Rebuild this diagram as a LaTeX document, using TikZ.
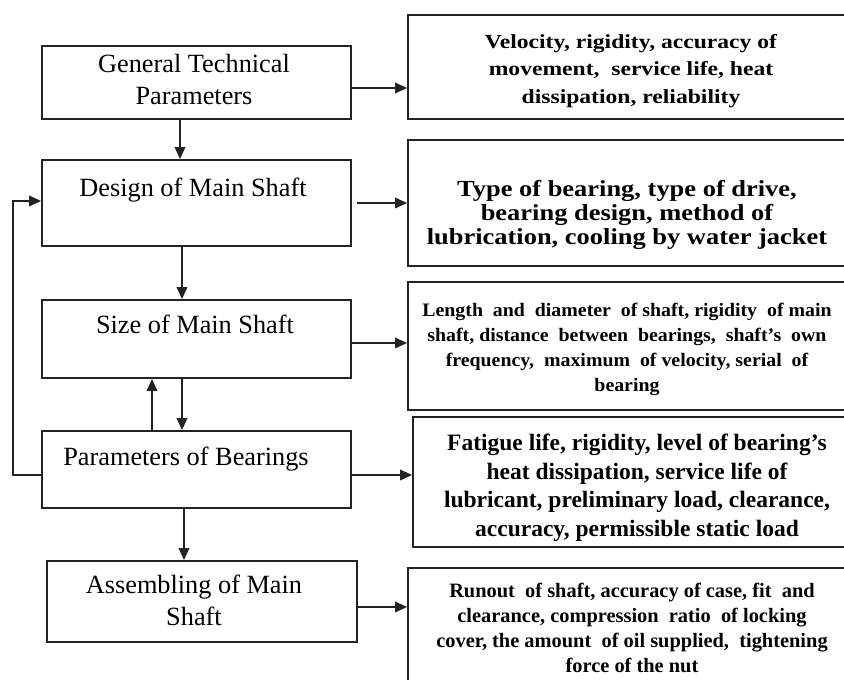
\documentclass[tikz,border=0pt]{standalone}
\usepackage{fontspec}
\usepackage{graphicx}
\setmainfont{Liberation Serif}
\usetikzlibrary{arrows.meta,calc}
\definecolor{ink}{RGB}{35,35,35}
\newcommand{\stretchtext}[4]{\scalebox{#1}[1]{\bfseries\fontsize{#2}{#3}\selectfont\begin{tabular}{@{}c@{}}#4\end{tabular}}}
\tikzset{
  box/.style={draw=ink, line width=1.8pt, rectangle, inner sep=0pt},
  ltext/.style={font=\fontsize{26.3}{32}\selectfont, align=center, inner sep=0pt, text=black},
  rtext/.style={align=center, inner sep=0pt, text=black},
  arr/.style={draw=ink, line width=1.8pt, -{Triangle[length=12pt,width=10.5pt]}},
}
\begin{document}
\begin{tikzpicture}[x=1pt,y=-1pt]
\useasboundingbox (0,0) rectangle (844,680);
\clip (0,0) rectangle (844,680);
\fill[white] (0,0) rectangle (844,680);
% left boxes
\node[box, minimum width=309pt, minimum height=73pt] (gtp) at (196.5,82.5) {};
\node[ltext] (gtpT) at (194,80) {General Technical\\Parameters};
\node[box, minimum width=309pt, minimum height=86pt] (design) at (196.5,203) {};
\node[ltext] (designT) at (193,190) {Design of Main Shaft};
\node[box, minimum width=309pt, minimum height=78pt] (size) at (196.5,339) {};
\node[ltext] (sizeT) at (195,324) {Size of Main Shaft};
\node[box, minimum width=309pt, minimum height=77pt] (bear) at (196.5,469.5) {};
\node[ltext] (bearT) at (186,459) {Parameters of Bearings};
\node[box, minimum width=310pt, minimum height=81pt] (assem) at (202,601.5) {};
\node[ltext] (assemT) at (194,600) {Assembling of Main\\Shaft};
% right boxes
\node[box, minimum width=442pt, minimum height=104pt] (r1) at (629,67) {};
\node[rtext] (r1T) at (631,70)
  {\stretchtext{1.18}{20}{27.5}{Velocity, rigidity, accuracy of\\movement,\ \ service life, heat\\dissipation, reliability}};
\node[box, minimum width=442pt, minimum height=126pt] (r2) at (629,203) {};
\node[rtext] (r2T) at (627,216)
  {\stretchtext{1.15}{23}{24}{Type of bearing, type of drive,\\bearing design, method of\\lubrication, cooling by water jacket}};
\node[box, minimum width=442pt, minimum height=128pt] (r3) at (629,346) {};
\node[rtext] (r3T) at (627,349)
  {\stretchtext{1.045}{19}{25}{Length\ \ and\ \ diameter\ \ of shaft,\ rigidity\ \ of main\\shaft,\ distance\ \ between\ \ bearings,\ \ shaft’s\ \ own\\frequency,\ \ maximum\ \ of velocity,\ serial\ \ of\\bearing}};
\node[box, minimum width=437pt, minimum height=130pt] (r4) at (631.5,482) {};
\node[rtext] (r4T) at (637,488)
  {\stretchtext{1.0}{23.5}{28.5}{Fatigue life, rigidity, level of bearing’s\\heat dissipation, service life of\\lubricant, preliminary load, clearance,\\accuracy, permissible static load}};
\node[box, minimum width=442pt, minimum height=140pt] (r5) at (629,638) {};
\node[rtext] (r5T) at (632,630)
  {\stretchtext{1.0}{20.4}{25}{Runout\ \ of shaft,\ accuracy of case, fit\ \ and\\clearance,\ compression\ \ ratio\ \ of locking\\cover, the\ amount\ \ of oil supplied,\ \ tightening\\force of the nut}};
% horizontal arrows
\draw[arr] ([yshift=-5.5pt]gtp.east) -- ([yshift=-5.5pt]gtp.east -| r1.west);
\draw[arr] ([xshift=5pt]design.east) -- (design.east -| r2.west);
\draw[arr] ([yshift=-4pt]size.east) -- ([yshift=-4pt]size.east -| r3.west);
\draw[arr] ([yshift=-5.5pt]bear.east) -- ([yshift=-5.5pt]bear.east -| r4.west);
\draw[arr] ([yshift=-5.5pt]assem.east) -- ([yshift=-5.5pt]assem.east -| r5.west);
% vertical arrows
\draw[arr] ([xshift=-16.5pt]gtp.south) -- ([xshift=-16.5pt]gtp.south |- design.north);
\draw[arr] ([xshift=-14.5pt]design.south) -- ([xshift=-14.5pt]design.south |- size.north);
\draw[arr] ([xshift=-14.5pt]size.south) -- ([xshift=-14.5pt]size.south |- bear.north);
\draw[arr] ([xshift=-44.5pt]bear.north) -- ([xshift=-44.5pt]bear.north |- size.south);
\draw[arr] ([xshift=-12.5pt]bear.south) -- ([xshift=-12.5pt]bear.south |- assem.north);
% feedback loop
\coordinate (fb1) at (13,475);
\coordinate (fb2) at (13,201);
\draw[arr] ([yshift=-5.5pt]bear.west) -- (fb1) -- (fb2) -- (fb2 -| design.west);
\end{tikzpicture}
\end{document}
